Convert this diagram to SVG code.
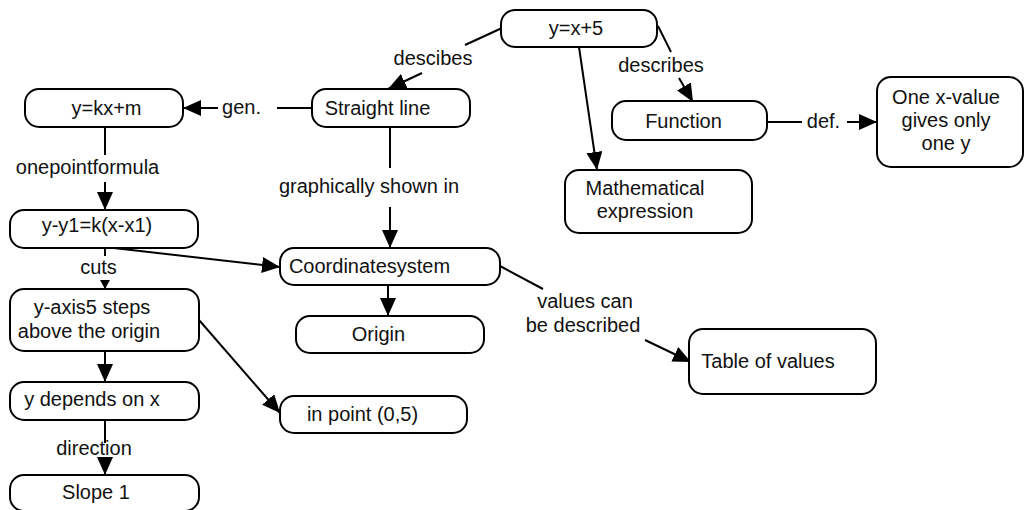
<svg xmlns="http://www.w3.org/2000/svg" width="1031" height="510" viewBox="0 0 1031 510">
<style>
.n{fill:#fff;stroke:#000;stroke-width:2}
.c{fill:none;stroke:#000;stroke-width:2}
text{font-family:"Liberation Sans",Arial,sans-serif;font-size:20px;fill:#111;text-anchor:middle}
</style>
<defs>
<marker id="ah" markerUnits="userSpaceOnUse" markerWidth="18" markerHeight="16" refX="18" refY="8" orient="auto">
<path d="M0,0 L18,8 L0,16 z" fill="#000"/>
</marker>
<marker id="ahs" markerUnits="userSpaceOnUse" markerWidth="9" markerHeight="10" refX="9" refY="5" orient="auto">
<path d="M0,0 L9,5 L0,10 z" fill="#000"/>
</marker>
</defs>
<rect width="1031" height="510" fill="#fff"/>
<g id="connectors">
<line class="c" x1="502" y1="28" x2="465" y2="45"/>
<line class="c" x1="422" y1="73" x2="388" y2="89" marker-end="url(#ah)"/>
<text x="433" y="65">descibes</text>
<line class="c" x1="658" y1="26" x2="671" y2="52"/>
<line class="c" x1="679" y1="78" x2="693" y2="102" marker-end="url(#ah)"/>
<text x="661" y="72">describes</text>
<line class="c" x1="579" y1="47" x2="597" y2="170" marker-end="url(#ah)"/>
<line class="c" x1="767" y1="122" x2="802" y2="122"/>
<line class="c" x1="847" y1="122" x2="877" y2="122" marker-end="url(#ah)"/>
<text x="823.5" y="128">def.</text>
<line class="c" x1="312" y1="108" x2="277" y2="108"/>
<line class="c" x1="218" y1="108" x2="183" y2="108" marker-end="url(#ah)"/>
<text x="241.5" y="114">gen.</text>
<line class="c" x1="390" y1="127" x2="390" y2="168"/>
<line class="c" x1="390" y1="207" x2="390" y2="248" marker-end="url(#ah)"/>
<text x="369" y="193">graphically shown in</text>
<line class="c" x1="105" y1="127" x2="105" y2="155"/>
<line class="c" x1="105" y1="182" x2="105" y2="210" marker-end="url(#ah)"/>
<text x="87.5" y="174">onepointformula</text>
<line class="c" x1="105" y1="248" x2="105" y2="256"/>
<line class="c" x1="105" y1="281" x2="105" y2="289" marker-end="url(#ahs)"/>
<text x="98.5" y="274">cuts</text>
<line class="c" x1="105" y1="247" x2="280" y2="267" marker-end="url(#ah)"/>
<line class="c" x1="388" y1="285" x2="388" y2="316" marker-end="url(#ah)"/>
<line class="c" x1="500" y1="266" x2="543" y2="289"/>
<line class="c" x1="645" y1="340" x2="691" y2="362" marker-end="url(#ah)"/>
<text x="585" y="308">values can</text>
<text x="583" y="332">be described</text>
<line class="c" x1="199" y1="320" x2="280" y2="413" marker-end="url(#ah)"/>
<line class="c" x1="105" y1="351" x2="105" y2="382" marker-end="url(#ah)"/>
<line class="c" x1="105" y1="420" x2="105" y2="443"/>
<line class="c" x1="105" y1="460" x2="105" y2="475" marker-end="url(#ah)"/>
<text x="94" y="455">direction</text>
</g>
<g id="n-yx5"><rect class="n" x="501" y="10" width="156" height="37" rx="14"/><text x="576" y="35">y=x+5</text></g>
<g id="n-straight"><rect class="n" x="312" y="89" width="158" height="38" rx="14"/><text x="377.5" y="115">Straight line</text></g>
<g id="n-ykxm"><rect class="n" x="25" y="89" width="158" height="38" rx="14"/><text x="106.5" y="115">y=kx+m</text></g>
<g id="n-function"><rect class="n" x="612" y="101" width="155" height="39" rx="14"/><text x="683.5" y="128">Function</text></g>
<g id="n-onex"><rect class="n" x="877" y="77" width="146" height="90" rx="14"/><text x="946" y="104">One x-value</text><text x="946" y="127">gives only</text><text x="946" y="150">one y</text></g>
<g id="n-math"><rect class="n" x="565" y="170" width="187" height="63" rx="14"/><text x="645" y="195">Mathematical</text><text x="645" y="218">expression</text></g>
<g id="n-onepoint"><rect class="n" x="10" y="210" width="188" height="38" rx="14"/><text x="97" y="232">y-y1=k(x-x1)</text></g>
<g id="n-coord"><rect class="n" x="280" y="248" width="220" height="37" rx="14"/><text x="369.5" y="273">Coordinatesystem</text></g>
<g id="n-origin"><rect class="n" x="296" y="316" width="188" height="37" rx="14"/><text x="378.5" y="341">Origin</text></g>
<g id="n-yaxis"><rect class="n" x="10" y="289" width="189" height="62" rx="14"/><text x="92" y="314">y-axis5 steps</text><text x="89" y="338">above the origin</text></g>
<g id="n-table"><rect class="n" x="689" y="329" width="187" height="65" rx="14"/><text x="768" y="368">Table of values</text></g>
<g id="n-inpoint"><rect class="n" x="280" y="396" width="187" height="37" rx="14"/><text x="362.5" y="421">in point (0,5)</text></g>
<g id="n-ydep"><rect class="n" x="10" y="382" width="189" height="38" rx="14"/><text x="92" y="406">y depends on x</text></g>
<g id="n-slope"><rect class="n" x="10" y="475" width="189" height="36" rx="14"/><text x="96" y="499">Slope 1</text></g>
</svg>
